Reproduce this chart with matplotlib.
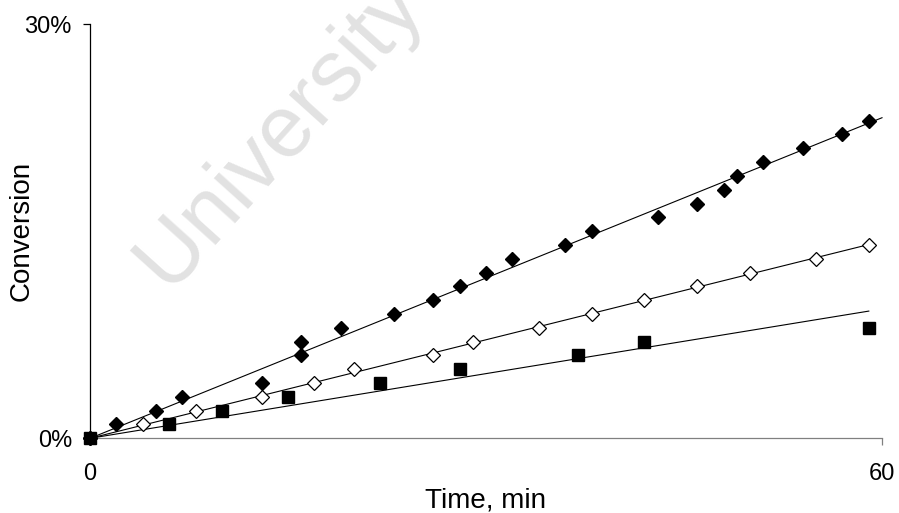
import numpy as np
import matplotlib.pyplot as plt

plt.rcParams['font.family'] = ['Liberation Sans', 'DejaVu Sans']

# time (min) and conversion (%) for the three runs
t_fill = [0, 2, 5, 7, 13, 16, 16, 19, 23, 26, 28, 30, 32, 36, 38, 43, 46, 48, 49, 51, 54, 57, 59]
c_fill = [0, 1, 2, 3, 4, 6, 7, 8, 9, 10, 11, 12, 13, 14, 15, 16, 17, 18, 19, 20, 21, 22, 23]

t_open = [0, 4, 8, 13, 17, 20, 26, 29, 34, 38, 42, 46, 50, 55, 59]
c_open = [0, 1, 2, 3, 4, 5, 6, 7, 8, 9, 10, 11, 12, 13, 14]

t_sq = [0, 6, 10, 15, 22, 28, 37, 42, 59]
c_sq = [0, 1, 2, 3, 4, 5, 6, 7, 8]

# trendlines are forced through the origin; how far each one runs
fit_end = [60, 59, 59]

xticks = [0, 60]
yticks = [0, 30]
ytick_labels = ['0%', '30%']

fig = plt.figure(figsize=(8.99, 5.13), dpi=100)
ax = fig.add_axes([0.1001, 0.1456, 0.8810, 0.8076])

# watermark
fig.text(0.311, 0.74, 'University', fontsize=63, color='#e2e2e2',
         rotation=48, ha='center', va='center', zorder=0)

series = [(t_fill, c_fill, dict(marker='D', ms=7.4, mfc='black', mec='black')),
          (t_open, c_open, dict(marker='D', ms=7.0, mfc='white', mec='black', mew=0.9)),
          (t_sq, c_sq, dict(marker='s', ms=9.3, mfc='black', mec='black'))]

for (t, c, style), end in zip(series, fit_end):
    t = np.array(t, float)
    c = np.array(c, float)
    k = (t * c).sum() / (t * t).sum()
    xx = np.array([0, end])
    ax.plot(xx, k * xx, color='black', lw=0.8, zorder=2)

for t, c, style in series[::-1]:
    ax.plot(t, c, ls='none', zorder=3, **style)

ax.set_xlim(0, 60)
ax.set_ylim(0, 30)
ax.set_xticks(xticks)
ax.set_yticks(yticks)
ax.set_yticklabels(ytick_labels)

for s in ['top', 'right']:
    ax.spines[s].set_visible(False)
ax.spines['left'].set_color('black')
ax.spines['left'].set_linewidth(0.9)
ax.spines['bottom'].set_color('#808080')
ax.spines['bottom'].set_linewidth(0.9)

ax.tick_params(axis='x', direction='out', length=5, width=0.9, color='#808080',
               labelsize=17, pad=13)
ax.tick_params(axis='y', direction='out', length=5, width=0.9,
               labelsize=17, pad=8)

ax.set_xlabel('Time, min', fontsize=20, va='baseline')
ax.xaxis.set_label_coords(0.5, -0.166)
ax.set_ylabel('Conversion', fontsize=20, va='center')
ax.yaxis.set_label_coords(-0.086, 0.5)

for ln in ax.lines:
    ln.set_clip_on(False)

fig.savefig('out.png', dpi=100)
